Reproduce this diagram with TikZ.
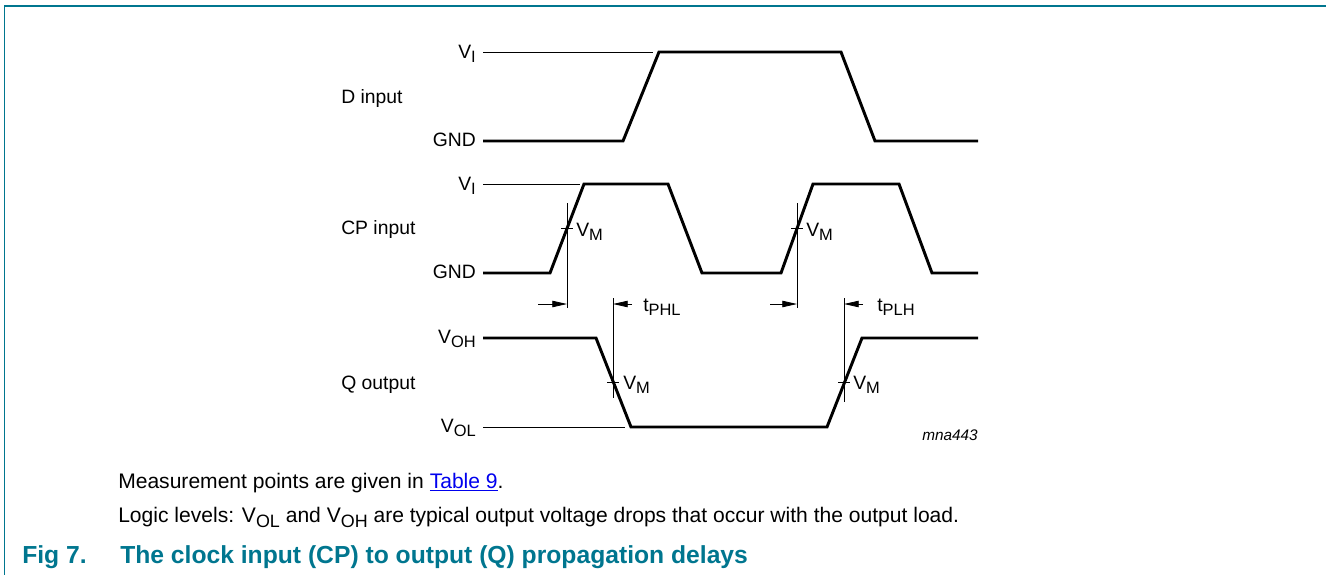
\documentclass[tikz,border=0pt]{standalone}
\usepackage{fontspec}
\setmainfont{Liberation Sans}
\usepackage{xcolor}
\definecolor{captioncolor}{RGB}{0,118,143}
\definecolor{linkcolor}{RGB}{0,0,238}
\usetikzlibrary{arrows.meta, calc}
\newcommand\lo[1]{\raisebox{-0.45ex}{\scalebox{0.85}{#1}}}

\begin{document}
\begin{tikzpicture}[
    x=0.75pt, y=-0.75pt,
    every node/.style={inner sep=0pt, font=\fontsize{14.5}{17}\selectfont},
    lvl/.style={anchor=base east},
    lbl/.style={anchor=base west},
    body/.style={anchor=base west, font=\fontsize{15.8}{19}\selectfont},
    figcap/.style={anchor=base west, text=captioncolor,
      font=\fontsize{18.5}{22}\selectfont\bfseries},
    sig/.style={line width=2.2pt},
    ref/.style={line width=0.6pt},
    dly/.style={line width=0.6pt, -{Triangle[length=11pt,width=4.8pt]}}
  ]
  \useasboundingbox (0,0) rectangle (1326,575);
  \draw[captioncolor, line width=1.1pt] (1326,6) -- (4.5,6) -- (4.5,575);

  \node[lvl] (dvi) at (476,58) {V\lo{I}};
  \node[lvl] (dgnd) at (476,146.5) {GND};
  \node[lbl] (dname) at (341,103) {D input};
  \node[lvl] (cvi) at (476,190) {V\lo{I}};
  \node[lvl] (cgnd) at (476,278.5) {GND};
  \node[lbl] (cname) at (341,234) {CP input};
  \node[lvl] (qvoh) at (476,343) {V\lo{OH}};
  \node[lvl] (qvol) at (476,432) {V\lo{OL}};
  \node[lbl] (qname) at (341,389) {Q output};

  \draw[ref] (483,52) -- (653,52);
  \draw[sig] (483,141) -- (623,141) -- (659,52) -- (841,52) -- (875,141) -- (978,141);

  \draw[ref] (483,184) -- (580,184);
  \draw[sig] (483,273) -- (550,273) -- (584,184) -- (668,184) -- (702,273)
    -- (781,273) -- (813,184) -- (899,184) -- (932,273) -- (978,273);

  \draw[ref] (483,427) -- (625,427);
  \draw[sig] (483,338) -- (596,338) -- (631,427) -- (827,427) -- (862,338) -- (978,338);

  \draw[ref] (567,203) -- (567,308) (561,228) -- (573,228);
  \draw[ref] (797,203) -- (797,308) (791,228) -- (803,228);
  \draw[ref] (613,298) -- (613,398) (607,382) -- (619,382);
  \draw[ref] (844,298) -- (844,402) (838,382) -- (850,382);
  \node[lbl] (vm1) at (576,236) {V\lo{M}};
  \node[lbl] (vm2) at (806,236) {V\lo{M}};
  \node[lbl] (vm3) at (623,389) {V\lo{M}};
  \node[lbl] (vm4) at (853,389) {V\lo{M}};

  \draw[dly] (538,304) -- (567,304);
  \draw[dly] (632,304) -- (613,304);
  \draw[dly] (770,304) -- (797,304);
  \draw[dly] (863,304) -- (844,304);
  \node[lbl] (tphl) at (643,311) {t\lo{PHL}};
  \node[lbl] (tplh) at (877,311) {t\lo{PLH}};

  \node[anchor=base east, font=\fontsize{11.5}{14}\selectfont\itshape] (fid) at (978,440) {mna443};

  \node[body] (note1) at (118,488) {Measurement points are given in
    \textcolor{linkcolor}{\underline{Table 9}}.};
  \node[body] (note2) at (118,522) {Logic levels: V\lo{OL} and V\lo{OH} are
    typical output voltage drops that occur with the output load.};
  \node[figcap] (fig) at (22,563) {Fig 7.};
  \node[figcap] (title) at (120,563) {The clock input (CP) to output (Q) propagation delays};
\end{tikzpicture}
\end{document}
